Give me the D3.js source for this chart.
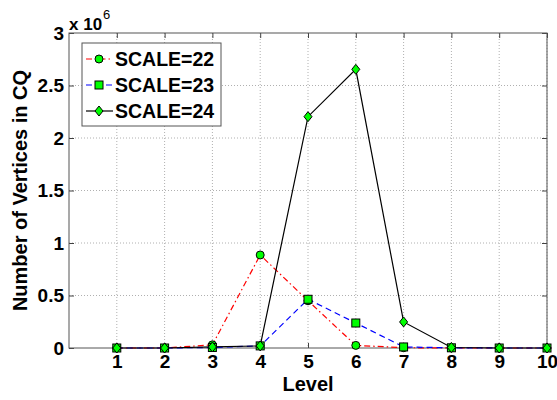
<!DOCTYPE html>
<html>
<head>
<meta charset="utf-8">
<script src="https://cdn.jsdelivr.net/npm/d3@7"></script>
<style>
  body { margin: 0; background: #fff; }
  svg text { font-family: 'Liberation Sans', Arial, sans-serif; font-weight: bold; fill: #000; }
  .grid line { stroke: #b0b0b0; stroke-dasharray: 1 2; }
</style>
</head>
<body>
<svg id="chart" width="557" height="400"></svg>
<script>
const levels = [1, 2, 3, 4, 5, 6, 7, 8, 9, 10]
const scale22 = [0, 0, 0.03e6, 0.886e6, 0.45e6, 0.025e6, 0.003e6, 0, 0, 0]
const scale23 = [0, 0, 0.005e6, 0.02e6, 0.464e6, 0.238e6, 0.01e6, 0.002e6, 0, 0]
const scale24 = [0, 0, 0.01e6, 0.02e6, 2.203e6, 2.654e6, 0.248e6, 0.005e6, 0, 0]
const yTicks = [0, 0.5e6, 1e6, 1.5e6, 2e6, 2.5e6, 3e6]

const series = [
  { name: 'SCALE=22', values: scale22, color: '#ff0000', dash: '6 3 1.5 3', marker: 'circle' },
  { name: 'SCALE=23', values: scale23, color: '#0000ff', dash: '6 4', marker: 'square' },
  { name: 'SCALE=24', values: scale24, color: '#000000', dash: null, marker: 'diamond' }
]

const margin = { top: 33, left: 69, bottom: 52, right: 10 }
const svg = d3.select('#chart')
const width = +svg.attr('width') - margin.left - margin.right
const height = +svg.attr('height') - margin.top - margin.bottom

const xScale = d3.scaleLinear().domain([0, 10]).range([0, width])
const yScale = d3.scaleLinear().domain([0, 3e6]).range([height, 0])

const g = svg.append('g').attr('transform', `translate(${margin.left},${margin.top})`)

// grid
const grid = g.append('g').classed('grid', true)
grid.selectAll('.gx').data(levels).enter().append('line')
  .attr('x1', d => xScale(d)).attr('x2', d => xScale(d))
  .attr('y1', 0).attr('y2', height)
grid.selectAll('.gy').data(yTicks.slice(1, -1)).enter().append('line')
  .attr('x1', 0).attr('x2', width)
  .attr('y1', d => yScale(d)).attr('y2', d => yScale(d))

// axes
const fmtY = v => d3.format('~g')(v / 1e6)
const axisStyle = sel => {
  sel.select('.domain').remove()
  sel.selectAll('line').attr('stroke', '#404040')
  sel.selectAll('text').style('font-size', '19px')
}
g.append('g').attr('transform', `translate(0,${height})`)
  .call(d3.axisBottom(xScale).tickValues(levels).tickSize(-5).tickPadding(7).tickFormat(d3.format('d')))
  .call(axisStyle)
g.append('g')
  .call(d3.axisLeft(yScale).tickValues(yTicks).tickSize(-5).tickPadding(5).tickFormat(fmtY))
  .call(axisStyle)
g.append('g')
  .call(d3.axisTop(xScale).tickValues(levels).tickSize(-5).tickFormat(''))
  .call(axisStyle)
g.append('g').attr('transform', `translate(${width},0)`)
  .call(d3.axisRight(yScale).tickValues(yTicks).tickSize(-5).tickFormat(''))
  .call(axisStyle)
g.append('rect').attr('width', width).attr('height', height)
  .attr('fill', 'none').attr('stroke', '#555').attr('stroke-width', 1)

// lines
const line = d3.line().x((d, i) => xScale(levels[i])).y(d => yScale(d))

function marker (sel, type, size) {
  if (type === 'circle') {
    sel.append('circle').attr('r', size)
  } else if (type === 'square') {
    sel.append('rect').attr('x', -size).attr('y', -size).attr('width', size * 2).attr('height', size * 2)
  } else {
    sel.append('path').attr('d', `M0,${-size - 1}L${size},0L0,${size + 1}L${-size},0Z`)
  }
  sel.selectAll('circle,rect,path').attr('fill', '#00ff00').attr('stroke', '#000').attr('stroke-width', 1)
}

series.forEach(s => {
  g.append('path').datum(s.values).attr('d', line)
    .attr('fill', 'none').attr('stroke', s.color).attr('stroke-width', 1.2)
    .attr('stroke-dasharray', s.dash)
})
series.forEach(s => {
  s.values.forEach((v, i) => {
    const m = g.append('g').attr('transform', `translate(${xScale(levels[i])},${yScale(v)})`)
    marker(m, s.marker, 4)
  })
})

// legend
const legend = svg.append('g').attr('transform', 'translate(82,43)')
legend.append('rect').attr('width', 139).attr('height', 83)
  .attr('fill', '#fff').attr('stroke', '#555')
series.forEach((s, i) => {
  const row = legend.append('g').attr('transform', `translate(0,${16 + i * 26})`)
  row.append('line').attr('x1', 4).attr('x2', 31).attr('y1', 0).attr('y2', 0)
    .attr('stroke', s.color).attr('stroke-width', 1.2).attr('stroke-dasharray', s.dash)
  const m = row.append('g').attr('transform', 'translate(17,0)')
  marker(m, s.marker, 4)
  row.append('text').attr('x', 33).attr('y', 7).style('font-size', '19.5px').text(s.name)
})

// labels
svg.append('text').attr('x', margin.left + width / 2).attr('y', 391)
  .attr('text-anchor', 'middle').style('font-size', '20px').text('Level')
svg.append('text').attr('transform', `translate(27,${margin.top + height / 2}) rotate(-90)`)
  .attr('text-anchor', 'middle').style('font-size', '20px').text('Number of Vertices in CQ')
const exp = svg.append('text').attr('x', 69).attr('y', 30).style('font-size', '17px')
exp.append('tspan').text('x 10')
exp.append('tspan').attr('dy', -11).attr('dx', 1).style('font-size', '13px').style('font-weight', 'normal').text('6')
</script>
</body>
</html>
